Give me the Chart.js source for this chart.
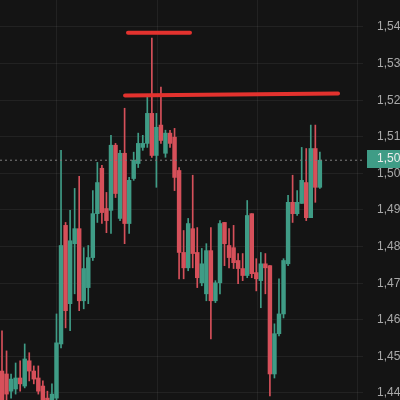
<!DOCTYPE html>
<html lang="en">
  <head>
    <meta charset="utf-8" />
    <title>Candles</title>
    <style>
      html, body { margin: 0; padding: 0; background: #141414; }
      #candle-chart { display: block; background: #141414; }
    </style>
  </head>
  <body>
    <canvas id="candle-chart" width="400" height="400"></canvas>

    <script src="https://cdn.jsdelivr.net/npm/chart.js@4.4.0/dist/chart.umd.min.js"></script>
    <script>
      // candle values (one entry per bar, left to right)
      const opens = [
        1.4460, 1.4452, 1.4405, 1.4411, 1.4441, 1.4419, 1.4488, 1.4460, 1.4441, 1.4419,
        1.4386, 1.4351, 1.4386, 1.4534, 1.4858, 1.4644, 1.4808, 1.4849, 1.4652, 1.4688,
        1.4770, 1.4890, 1.5014, 1.4904, 1.4899, 1.5077, 1.4877, 1.5055, 1.4863, 1.4986,
        1.5027, 1.5071, 1.5082, 1.5164, 1.5049, 1.5132, 1.5055, 1.5110, 1.5099, 1.5008,
        1.4784, 1.4742, 1.4849, 1.4784, 1.4701, 1.4671, 1.4789, 1.4652, 1.4701, 1.4866,
        1.4803, 1.4797, 1.4762, 1.4740, 1.4721, 1.4890, 1.4729, 1.4707, 1.4753, 1.4748,
        1.4452, 1.4562, 1.4616, 1.4753, 1.4921, 1.4890, 1.4918, 1.4975, 1.4879, 1.5068, 1.4962
      ];
      const closes = [
        1.4378, 1.4397, 1.4438, 1.4441, 1.4425, 1.4493, 1.4460, 1.4438, 1.4405, 1.4378,
        1.4356, 1.4397, 1.4537, 1.4803, 1.4625, 1.4816, 1.4849, 1.4652, 1.4740, 1.4770,
        1.4890, 1.4975, 1.4893, 1.4871, 1.5077, 1.4945, 1.5055, 1.4863, 1.4981, 1.5036,
        1.5082, 1.5082, 1.5164, 1.5049, 1.5126, 1.5090, 1.5110, 1.5082, 1.4989, 1.4784,
        1.4742, 1.4863, 1.4781, 1.4715, 1.4753, 1.4789, 1.4652, 1.4701, 1.4863, 1.4808,
        1.4770, 1.4756, 1.4740, 1.4721, 1.4885, 1.4726, 1.4712, 1.4753, 1.4742, 1.4452,
        1.4562, 1.4616, 1.4762, 1.4921, 1.4890, 1.4921, 1.4981, 1.4879, 1.5068, 1.4962, 1.5036
      ];
      const highs = [
        1.4570, 1.4515, 1.4452, 1.4482, 1.4488, 1.4534, 1.4510, 1.4474, 1.4474, 1.4433,
        1.4405, 1.4425, 1.4616, 1.5063, 1.4866, 1.4899, 1.4959, 1.4992, 1.4797, 1.4803,
        1.4953, 1.5030, 1.5022, 1.4948, 1.5104, 1.5082, 1.5063, 1.5178, 1.4989, 1.5058,
        1.5110, 1.5104, 1.5208, 1.5370, 1.5164, 1.5236, 1.5118, 1.5118, 1.5123, 1.5016,
        1.4844, 1.4877, 1.4995, 1.4852, 1.4795, 1.4808, 1.4852, 1.4707, 1.4871, 1.4866,
        1.4849, 1.4858, 1.4781, 1.4781, 1.4926, 1.4890, 1.4767, 1.4784, 1.4781, 1.4748,
        1.4589, 1.4712, 1.4767, 1.4940, 1.4995, 1.4953, 1.5071, 1.5068, 1.5132, 1.5132, 1.5058
      ];
      const lows = [
        1.4364, 1.4378, 1.4386, 1.4397, 1.4405, 1.4414, 1.4433, 1.4425, 1.4397, 1.4364,
        1.4345, 1.4345, 1.4378, 1.4523, 1.4578, 1.4570, 1.4671, 1.4625, 1.4630, 1.4644,
        1.4762, 1.4866, 1.4863, 1.4838, 1.4836, 1.4934, 1.4871, 1.4808, 1.4836, 1.4981,
        1.5016, 1.5063, 1.5071, 1.5044, 1.4962, 1.5082, 1.5044, 1.5071, 1.4953, 1.4712,
        1.4712, 1.4734, 1.4742, 1.4688, 1.4693, 1.4652, 1.4548, 1.4647, 1.4671, 1.4748,
        1.4742, 1.4740, 1.4699, 1.4707, 1.4715, 1.4715, 1.4679, 1.4633, 1.4671, 1.4392,
        1.4441, 1.4556, 1.4605, 1.4748, 1.4866, 1.4885, 1.4918, 1.4871, 1.4879, 1.4921, 1.4959
      ];

      // price scale ticks and time grid (bar index where the vertical lines sit)
      const priceTicks = [1.44, 1.45, 1.46, 1.47, 1.48, 1.49, 1.50, 1.51, 1.52, 1.53, 1.54];
      const timeGrid = [12.1, 34.2, 56.3, 78.2];

      // the two hand-drawn red levels: bar index span and price at each end
      const topLevelIdx = [27.75, 41.4];
      const topLevelPrice = [1.5384, 1.5384];
      const mainLevelIdx = [27.1, 74.0];
      const mainLevelPrice = [1.5213, 1.5218];

      const UP = "#3f9c86";
      const DOWN = "#d6505a";
      const LEVEL = "#e3322e";
      const X_MIN = -0.44;
      const X_MAX = 79.5;

      const idx = opens.map((_, i) => i);
      const candleColors = closes.map((c, i) => (c >= opens[i] ? UP : DOWN));
      const lastClose = closes[closes.length - 1];
      const fmt = (v) => v.toFixed(4).replace(".", ",");

      // teal price tag on the right axis
      const priceTag = {
        id: "priceTag",
        afterDraw(chart) {
          const ctx = chart.ctx;
          const y = chart.scales.y.getPixelForValue(lastClose);
          const left = chart.chartArea.right + 4;
          ctx.save();
          ctx.fillStyle = UP;
          ctx.fillRect(left, Math.round(y) - 10, chart.width - left, 18);
          ctx.fillStyle = "#ececec";
          ctx.font = '12px "Liberation Sans", Arial, sans-serif';
          ctx.textBaseline = "middle";
          ctx.fillText(fmt(lastClose), left + 10, Math.round(y) - 1);
          ctx.restore();
        },
      };

      new Chart(document.getElementById("candle-chart"), {
        type: "bar",
        data: {
          datasets: [
            {
              type: "line",
              data: [{ x: topLevelIdx[0], y: topLevelPrice[0] }, { x: topLevelIdx[1], y: topLevelPrice[1] }],
              borderColor: LEVEL,
              borderWidth: 4,
              borderCapStyle: "round",
              pointRadius: 0,
              order: -2,
            },
            {
              type: "line",
              data: [{ x: mainLevelIdx[0], y: mainLevelPrice[0] }, { x: mainLevelIdx[1], y: mainLevelPrice[1] }],
              borderColor: LEVEL,
              borderWidth: 4,
              borderCapStyle: "round",
              pointRadius: 0,
              order: -2,
            },
            {
              type: "line",
              data: [{ x: X_MIN, y: lastClose }, { x: X_MAX, y: lastClose }],
              borderColor: "#7d7d7d",
              borderWidth: 1,
              borderDash: [2, 3],
              pointRadius: 0,
              order: -1,
            },
            {
              // bodies
              data: idx.map((i) => ({ x: i, y: [opens[i], closes[i]] })),
              backgroundColor: candleColors,
              barThickness: 3.8,
              minBarLength: 1,
              grouped: false,
              order: 1,
            },
            {
              // wicks
              data: idx.map((i) => ({ x: i, y: [lows[i], highs[i]] })),
              backgroundColor: candleColors,
              barThickness: 1,
              grouped: false,
              order: 2,
            },
          ],
        },
        options: {
          responsive: false,
          animation: false,
          layout: { padding: 0 },
          plugins: {
            legend: { display: false },
            tooltip: { enabled: false },
          },
          scales: {
            x: {
              type: "linear",
              min: X_MIN,
              max: X_MAX,
              offset: false,
              ticks: { display: false },
              grid: { color: "rgba(255,255,255,0.06)", drawTicks: false, offset: false },
              border: { display: false },
              afterBuildTicks: (scale) => {
                scale.ticks = timeGrid.map((v) => ({ value: v }));
              },
              afterFit: (scale) => {
                scale.height = 0;
              },
            },
            y: {
              position: "right",
              min: 1.438087,
              max: 1.547377,
              ticks: {
                color: "#a9a9a9",
                padding: 14,
                font: { family: '"Liberation Sans", Arial, sans-serif', size: 12 },
                callback: (v) => fmt(v),
              },
              grid: { color: "rgba(255,255,255,0.06)", drawTicks: false },
              border: { display: false },
              afterBuildTicks: (scale) => {
                scale.ticks = priceTicks.map((v) => ({ value: v }));
              },
              afterFit: (scale) => {
                scale.width = 37;
                scale.paddingTop = 0;
                scale.paddingBottom = 0;
              },
            },
          },
        },
        plugins: [priceTag],
      });
    </script>
  </body>
</html>
